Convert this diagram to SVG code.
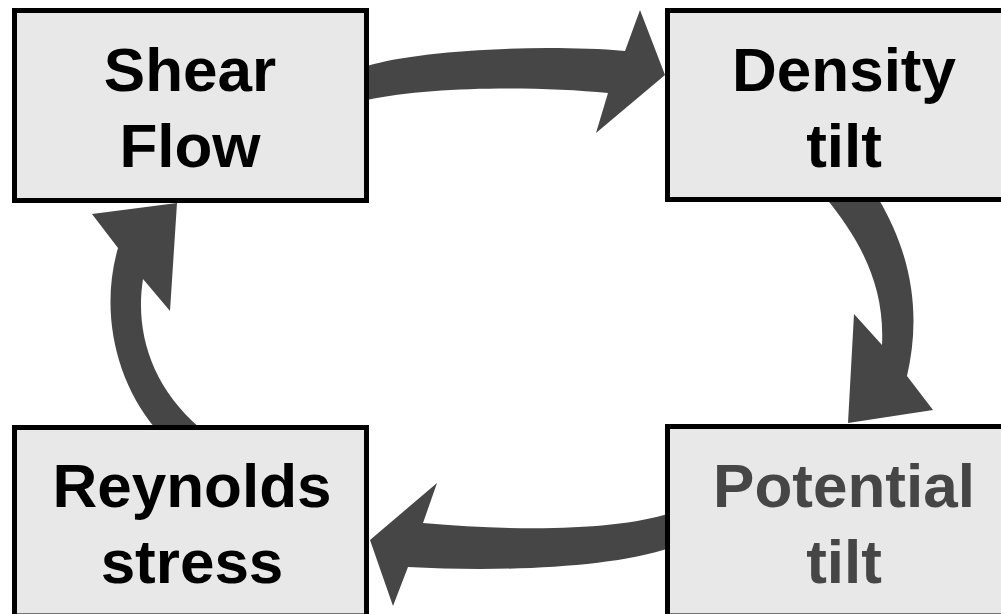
<svg xmlns="http://www.w3.org/2000/svg" width="1001" height="614" viewBox="0 0 1001 614">
  <style>
    .box { fill: #e8e8e8; stroke: #000000; stroke-width: 5; }
    .lbl { font-family: "Liberation Sans", Arial, sans-serif; font-weight: bold; font-size: 62px; text-anchor: middle; fill: #000000; }
    .gray { fill: #464646; }
    .arrow { fill: #464646; stroke: none; }
  </style>
  <rect width="1001" height="614" fill="#ffffff"/>
  <g id="connectors">
    <path class="arrow" d="M 367,66 C 420,50 540,44 625,51 L 640,10 L 665,75 L 596,133 L 608,93 C 540,86 430,86 367,100 Z"/>
    <path class="arrow" d="M 826,198 C 860,240 885,285 882,345 L 854,314 L 848,423 L 933,410 L 907,376 C 920,320 915,260 878,198 Z"/>
    <path class="arrow" d="M 670,513 C 620,530 520,532 423,523 L 437,483 L 370,540 L 393,606 L 408,567 C 500,572 610,568 670,548 Z"/>
    <path class="arrow" d="M 155,428 C 115,380 100,310 118,248 L 92,214 L 177,203 L 170,311 L 143,279 C 135,330 150,385 200,428 Z"/>
  </g>
  <g id="shear-flow">
    <rect class="box" x="14.5" y="10.5" width="352" height="190"/>
    <text class="lbl" x="190" y="91">Shear</text>
    <text class="lbl" x="190" y="167">Flow</text>
  </g>
  <g id="density-tilt">
    <rect class="box" x="667.5" y="10.5" width="355" height="189"/>
    <text class="lbl" x="844" y="91">Density</text>
    <text class="lbl" x="844" y="167">tilt</text>
  </g>
  <g id="potential-tilt">
    <rect class="box" x="667.5" y="426.5" width="355" height="189.5"/>
    <text class="lbl gray" x="844" y="507">Potential</text>
    <text class="lbl gray" x="844" y="583">tilt</text>
  </g>
  <g id="reynolds-stress">
    <rect class="box" x="14.5" y="427.5" width="352" height="188.5"/>
    <text class="lbl" x="192" y="507">Reynolds</text>
    <text class="lbl" x="192" y="583">stress</text>
  </g>
</svg>
